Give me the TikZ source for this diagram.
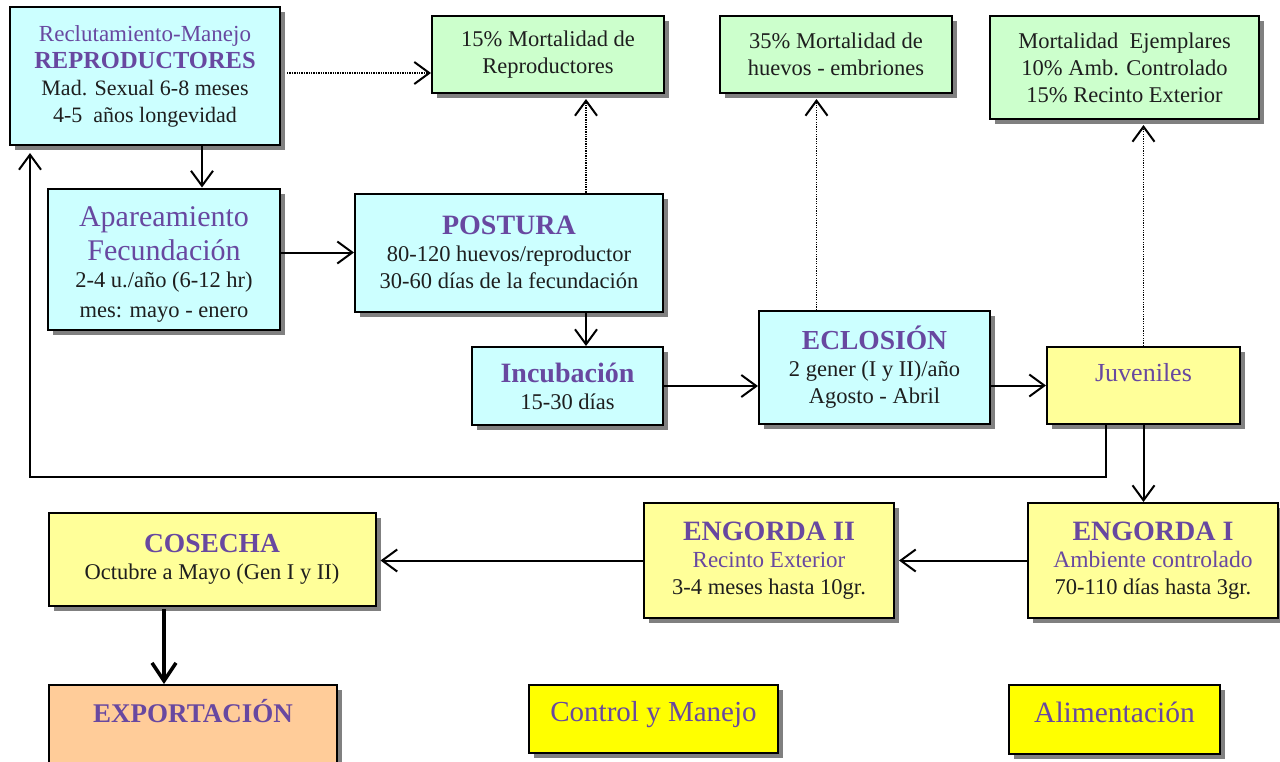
\documentclass[tikz,border=0pt]{standalone}
\usepackage{fontspec}
\setmainfont{Liberation Serif}
\usetikzlibrary{arrows.meta,shadows}
\definecolor{pur}{RGB}{104,72,160}
\definecolor{txt}{RGB}{30,30,30}
\definecolor{cyanbox}{RGB}{204,255,255}
\definecolor{greenbox}{RGB}{204,255,204}
\definecolor{ylw}{RGB}{255,255,153}
\definecolor{ylwb}{RGB}{255,255,0}
\definecolor{orng}{RGB}{255,204,153}
\definecolor{shd}{RGB}{128,128,128}
\newcommand{\fsz}[2]{\fontsize{#1}{#2}\selectfont}
\newcommand{\ptl}[2]{{\fsz{#1}{#1}\color{pur}#2}}
\newcommand{\upby}[2]{\smash{\raisebox{#1}{#2}}}
\begin{document}
\begin{tikzpicture}[x=1pt,y=-1pt,
  box/.style={draw=black, line width=2pt, align=center, inner sep=0pt,
    drop shadow={shadow xshift=5pt,shadow yshift=-5pt,fill=shd,opacity=1,draw=none},
    font=\fsz{22.5}{27}, text=txt},
  arr/.style={line width=2pt, -{Straight Barb[length=15pt,width=22pt,line width=2pt]}},
  dotarr/.style={line width=1.6pt, dash pattern=on 1.3pt off 1.1pt,
    -{Straight Barb[length=15pt,width=22pt,line width=2pt,sep=0pt]}},
  thickarr/.style={line width=3.5pt, -{Straight Barb[length=18pt,width=24pt,line width=3.5pt]}}]
\useasboundingbox (0,0) rectangle (1280,761);

\node[box,fill=cyanbox,minimum width=270pt,minimum height=138pt] (rep) at (145,76)
  {\ptl{23}{Reclutamiento-Manejo}\\ \ptl{24.5}{\bfseries REPRODUCTORES}\\ {\fsz{22}{27}Mad. Sexual 6-8 meses}\\ {\fsz{22}{27}4-5~~a\~nos longevidad}};
\node[box,fill=cyanbox,minimum width=232pt,minimum height=141pt] (apa) at (164,259)
  {\rule{0pt}{31pt}\ptl{30}{Apareamiento}\\[5pt] \ptl{30}{Fecundaci\'on}\\ 2-4 u./a\~no (6-12 hr)\\[3pt] mes: mayo - enero};
\node[box,fill=cyanbox,minimum width=308pt,minimum height=118pt] (pos) at (509,252.5)
  {\ptl{28}{\bfseries POSTURA}\\ 80-120 huevos/reproductor\\ 30-60 d\'{\i}as de la fecundaci\'on};
\node[box,fill=cyanbox,minimum width=191pt,minimum height=78pt] (inc) at (567.5,386)
  {\ptl{28}{\bfseries Incubaci\'on}\\ 15-30 d\'{\i}as};
\node[box,fill=cyanbox,minimum width=231pt,minimum height=113pt] (ecl) at (874.5,367.5)
  {\ptl{27.5}{\bfseries ECLOSI\'ON}\\ 2 gener (I y II)/a\~no\\ Agosto - Abril};
\node[box,fill=greenbox,minimum width=232pt,minimum height=77pt] (m1) at (548,54.5)
  {15\% Mortalidad de\\ Reproductores};
\node[box,fill=greenbox,minimum width=232pt,minimum height=77pt] (m2) at (836,54.5)
  {35\% Mortalidad de\\ huevos - embriones};
\node[box,fill=greenbox,minimum width=269pt,minimum height=103pt] (m3) at (1124.5,67.5)
  {Mortalidad~~Ejemplares\\ 10\% Amb. Controlado\\ 15\% Recinto Exterior};
\node[box,fill=ylw,minimum width=193pt,minimum height=77pt] (juv) at (1143.5,385.5)
  {\upby{4.5pt}{\ptl{26}{Juveniles}}};
\node[box,fill=ylw,minimum width=250pt,minimum height=115pt] (eng1) at (1153,560.5)
  {\ptl{28}{\bfseries ENGORDA I}\\ \ptl{23.5}{Ambiente controlado}\\ 70-110 d\'{\i}as hasta 3gr.};
\node[box,fill=ylw,minimum width=250pt,minimum height=115pt] (eng2) at (769,560.5)
  {\ptl{28}{\bfseries ENGORDA II}\\ \ptl{23}{Recinto Exterior}\\ 3-4 meses hasta 10gr.};
\node[box,fill=ylw,minimum width=327pt,minimum height=93pt] (cos) at (212,559.5)
  {\ptl{27.5}{\bfseries COSECHA}\\ Octubre a Mayo (Gen I y II)};
\node[box,fill=orng,minimum width=288pt,minimum height=100pt] (exp) at (193,735)
  {\upby{13pt}{\ptl{27}{\bfseries EXPORTACI\'ON}}};
\node[box,fill=ylwb,minimum width=249pt,minimum height=68pt] (ctl) at (653.5,719)
  {\upby{-2pt}{\ptl{29}{Control y Manejo}}};
\node[box,fill=ylwb,minimum width=211pt,minimum height=69pt] (ali) at (1114.5,719.5)
  {\upby{-2.5pt}{\ptl{29.5}{Alimentaci\'on}}};

\coordinate (fbk) at (30,477);

\draw[dotarr, shorten <=6pt] ([yshift=3pt]rep.east) -- ([yshift=3pt]rep.east -| m1.west);
\draw[arr] ([xshift=57pt]rep.south) -- ([xshift=57pt]rep.south |- apa.north);
\draw[arr] (apa.east |- pos.west) -- (pos.west);
\draw[dotarr, shorten >=5pt] ([xshift=77pt]pos.north) -- ([xshift=77pt]pos.north |- m1.south);
\draw[arr] ([xshift=77pt]pos.south) -- ([xshift=77pt]pos.south |- inc.north);
\draw[arr] (inc.east) -- (inc.east -| ecl.west);
\draw[dotarr, shorten >=5pt] ([xshift=-58pt]ecl.north) -- ([xshift=-58pt]ecl.north |- m2.south);
\draw[arr] (ecl.east |- juv.west) -- (juv.west);
\draw[dotarr, shorten >=5pt] (juv.north) -- (juv.north |- m3.south);
\draw[arr] (juv.south) -- (juv.south |- eng1.north);
\draw[arr, shorten >=7pt] ([xshift=-38pt]juv.south) |- (fbk) -- (fbk |- rep.south);
\draw[arr, shorten >=4pt] (eng1.west) -- (eng2.east);
\draw[arr, shorten >=4pt] (eng2.west) -- (eng2.west -| cos.east);
\draw[thickarr, shorten <=2pt] ([xshift=-48pt]cos.south) -- ([xshift=-48pt]cos.south |- exp.north);
\end{tikzpicture}
\end{document}
